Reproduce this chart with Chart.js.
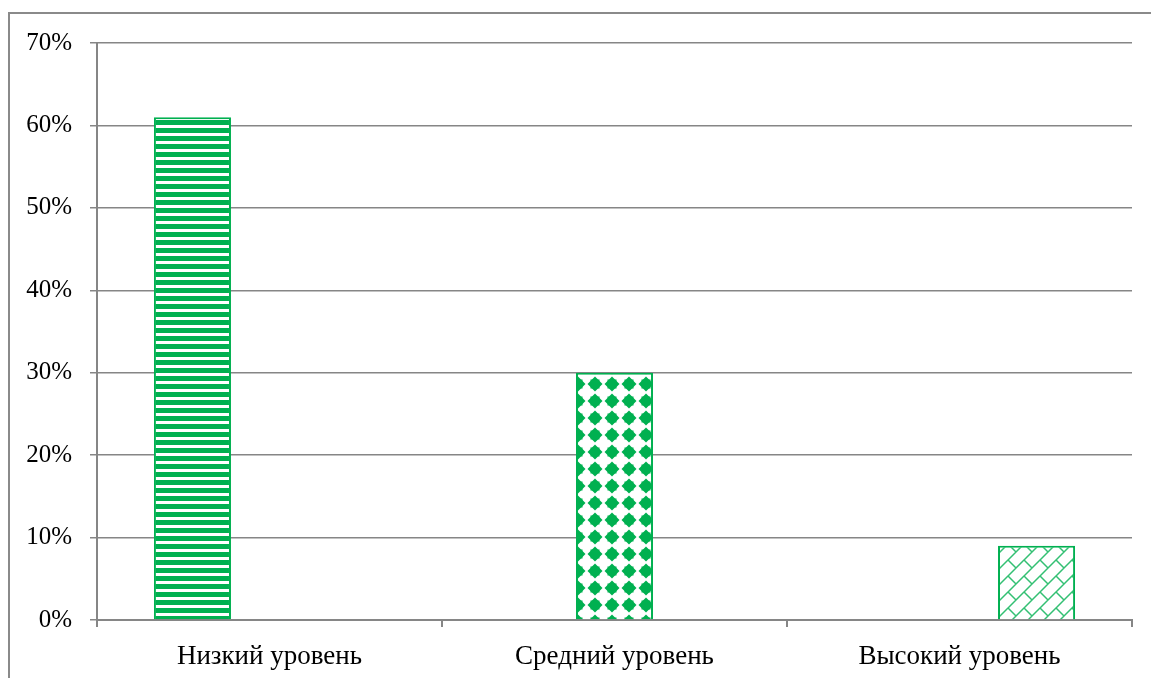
<!DOCTYPE html>
<html>
<head>
<meta charset="utf-8">
<script src="https://cdn.jsdelivr.net/npm/chart.js@4"></script>
<style>
  html, body { margin: 0; padding: 0; background: #fff; }
  #wrap { position: relative; width: 1151px; height: 678px; overflow: hidden; }
  #frame { position: absolute; left: 8px; top: 12px; width: 1200px; height: 700px;
           border-left: 2px solid #8a8a8a; border-top: 2px solid #8a8a8a; }
  canvas { position: absolute; left: 0; top: 0; }
</style>
</head>
<body>
<div id="wrap">
  <div id="frame"></div>
  <canvas id="levels" width="1151" height="678"></canvas>
</div>
<script>
const categories = ['Низкий уровень', 'Средний уровень', 'Высокий уровень'];
// one series per level, each filled only in its own category
const lowLevel = [61, null, null];
const midLevel = [null, 30, null];
const highLevel = [null, null, 9];
const yTicks = [0, 10, 20, 30, 40, 50, 60, 70];

const GREEN = '#00b050';

function tile(size, draw, dy) {
  const c = document.createElement('canvas');
  c.width = size; c.height = size;
  const g = c.getContext('2d');
  g.fillStyle = '#fff';
  g.fillRect(0, 0, size, size);
  draw(g, size);
  const p = document.getElementById('levels').getContext('2d').createPattern(c, 'repeat');
  if (dy) p.setTransform(new DOMMatrix().translate(0, dy));
  return p;
}

// horizontal stripes
const stripes = tile(8, (g) => {
  g.fillStyle = GREEN;
  g.fillRect(0, 0, 8, 5);
});

// solid diamonds, centred on the tile corners
const diamonds = tile(17, (g, s) => {
  g.fillStyle = GREEN;
  const r = 7.5;
  for (const [cx, cy] of [[0, 0], [s, 0], [0, s], [s, s]]) {
    g.beginPath();
    g.moveTo(cx, cy - r); g.lineTo(cx + r, cy); g.lineTo(cx, cy + r); g.lineTo(cx - r, cy);
    g.closePath();
    g.fill();
    g.fillRect(cx - 4.5, cy - 4.5, 9, 9);
  }
}, 10);

// diagonal brick
const bricks = tile(16, (g, s) => {
  g.strokeStyle = 'rgba(0,176,80,0.8)';
  g.lineWidth = 1.5;
  g.beginPath();
  g.moveTo(0, s); g.lineTo(s, 0);
  g.moveTo(-2, 2); g.lineTo(2, -2);
  g.moveTo(s - 2, s + 2); g.lineTo(s + 2, s - 2);
  g.moveTo(0, 0); g.lineTo(s / 2, s / 2);
  g.stroke();
});

const family = '"Liberation Serif", "Times New Roman", serif';

new Chart(document.getElementById('levels'), {
  type: 'bar',
  data: {
    labels: categories,
    datasets: [
      { data: lowLevel, backgroundColor: stripes, borderColor: GREEN, borderWidth: 2 },
      { data: midLevel, backgroundColor: diamonds, borderColor: GREEN, borderWidth: 2 },
      { data: highLevel, backgroundColor: bricks, borderColor: GREEN, borderWidth: 2 }
    ]
  },
  options: {
    responsive: false,
    animation: false,
    categoryPercentage: 0.67,
    barPercentage: 1,
    layout: { padding: { left: 0, top: 43, right: 19, bottom: 0 } },
    plugins: { legend: { display: false }, tooltip: { enabled: false } },
    scales: {
      x: {
        grid: { drawOnChartArea: false, drawTicks: true, tickLength: 7, color: '#868686', lineWidth: 2 },
        border: { color: '#868686', width: 2 },
        ticks: { color: '#000', font: { family, size: 27 }, padding: 14 },
        afterFit: (s) => { s.height = 58; }
      },
      y: {
        min: 0,
        max: 70,
        afterBuildTicks: (s) => { s.ticks = yTicks.map(v => ({ value: v })); },
        grid: { color: '#868686', lineWidth: 1.5, tickLength: 7 },
        border: { color: '#868686', width: 2 },
        ticks: { color: '#000', font: { family, size: 25 }, padding: 18, callback: (v) => v + '%' },
        afterFit: (s) => { s.width = 97; }
      }
    }
  }
});
</script>
</body>
</html>
